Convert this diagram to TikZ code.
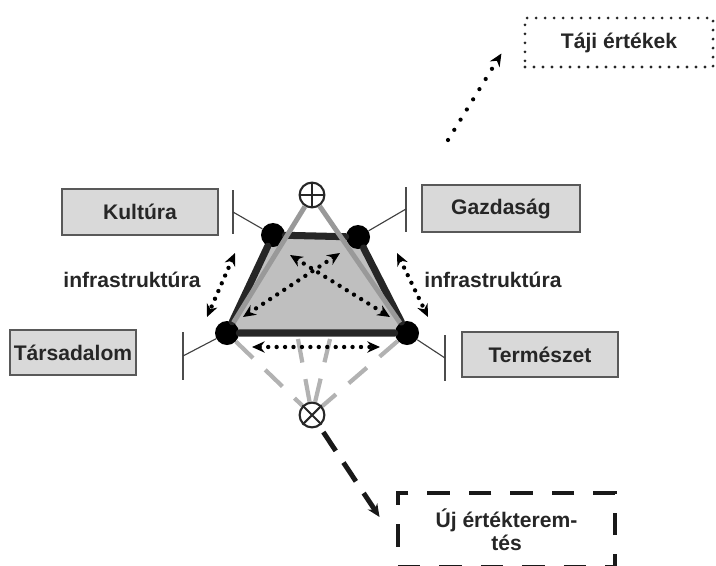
\documentclass[tikz,border=0pt]{standalone}
\usepackage{fontspec}
\setmainfont{Liberation Sans}
\usetikzlibrary{arrows.meta,backgrounds}

\begin{document}
\begin{tikzpicture}[x=0.025cm,y=-0.025cm,
  >={Stealth[length=9pt,width=8pt]},
  lbl/.style={font=\fontsize{15}{16.5}\selectfont\bfseries,text=black!85},
  fieldbox/.style={lbl,draw=black!65,line width=1.3pt,fill=black!15,inner sep=0pt},
  vertex/.style={circle,fill=black,minimum size=0.6cm,inner sep=0pt},
  sign/.style={circle,draw=black!85,line width=1.5pt,fill=white,minimum size=0.62cm,inner sep=0pt},
  edge/.style={line width=5pt,black!85,line cap=round},
  ridge/.style={line width=3.5pt,black!40},
  greydash/.style={line width=3pt,black!30,dash pattern=on 17pt off 12pt},
  infra/.style={<->,line width=3.1pt,dash pattern=on 0pt off 6pt,line cap=round},
  tick/.style={line width=1.2pt,black!70},
  pin/.style={line width=0.8pt,black!75}]
\useasboundingbox (0,0) rectangle (716,565);

% boxes
\node[fieldbox,minimum width=3.9cm,minimum height=1.15cm] (kultura) at (140,212) {Kultúra};
\node[fieldbox,minimum width=3.95cm,minimum height=1.175cm] (gazdasag) at (501,208.5) {Gazdaság};
\node[fieldbox,minimum width=3.15cm,minimum height=1.125cm] (tarsadalom) at (73,352.5) {Társadalom};
\node[fieldbox,minimum width=3.9cm,minimum height=1.125cm] (termeszet) at (540,354.5) {Természet};
\node[lbl,draw=black!85,line width=2.2pt,dash pattern=on 0pt off 6.4pt,line cap=round,
  minimum width=4.7cm,minimum height=1.225cm] (taji) at (619,42.5) {Táji értékek};
\node[lbl,draw=black!90,line width=3.5pt,dash pattern=on 16pt off 13.5pt,align=center,
  minimum width=5.425cm,minimum height=1.85cm] (uj) at (506.5,530) {Új értékterem-\\tés};

% corners of the trapezoid
\node[vertex] (kul) at (273,235) {};
\node[vertex] (gaz) at (358,237) {};
\node[vertex] (tar) at (227,333) {};
\node[vertex] (ter) at (407,333) {};

\node[sign] (plus) at (312,195) {};
\draw[line width=1.5pt,black!85] (plus.north) -- (plus.south) (plus.west) -- (plus.east);
\node[sign] (times) at (312,415) {};
\draw[line width=1.5pt,black!85] (times.north west) -- (times.south east)
  (times.north east) -- (times.south west);

\begin{pgfonlayer}{background}
\fill[black!25] (kul.center) -- (gaz.center) -- (ter.center) -- (tar.center) -- cycle;
\draw[greydash] (tar) -- (times);
\draw[greydash] (ter) -- (times);
\draw[greydash] ([shift={(71,6)}]tar.center) -- (times);
\draw[greydash] ([shift={(-77,6)}]ter.center) -- (times);
\end{pgfonlayer}

\draw[edge] (kul) -- (gaz) (gaz) -- (ter) (ter) -- (tar) (tar) -- (kul);
\draw[ridge] (plus) -- (tar);
\draw[ridge] (plus) -- (ter);

% ticks and pins to the boxes
\coordinate (kultick) at (233,212);
\coordinate (gaztick) at (406,209);
\coordinate (tartick) at (183,356);
\coordinate (tertick) at (445,358);
\draw[tick] (kultick) ++(0,-22) -- ++(0,44);
\draw[tick] (gaztick) ++(0,-22) -- ++(0,45);
\draw[tick] (tartick) ++(0,-24) -- ++(0,48);
\draw[tick] (tertick) ++(0,-23) -- ++(0,46);
\draw[pin] (kultick) -- (kul);
\draw[pin] (gaztick) -- (gaz);
\draw[pin] (tartick) -- (tar);
\draw[pin] (tertick) -- (ter);

% dotted arrows
\draw[infra] ([shift={(-38,18)}]kul.center) -- ([shift={(-20,-16)}]tar.center);
\draw[infra] ([shift={(39,16)}]gaz.center) -- ([shift={(21,-16)}]ter.center);
\draw[infra] ([shift={(25,14)}]tar.center) -- ([shift={(-27,14)}]ter.center);
\draw[infra] ([shift={(17,20)}]kul.center) -- ([shift={(-17,-16)}]ter.center);
\draw[infra] ([shift={(-18,16)}]gaz.center) -- ([shift={(16,-16)}]tar.center);

\node[lbl] (infraleft) at (132,280) {infrastruktúra};
\node[lbl] (infraright) at (493,280) {infrastruktúra};

\coordinate (tajifoot) at (448,140);
\draw[->,line width=3pt,dash pattern=on 0pt off 8.5pt,line cap=round]
  (tajifoot) -- ([shift={(-22,11)}]taji.west);
\draw[->,line width=3.5pt,black!90,dash pattern=on 16pt off 10pt,shorten <=5pt]
  (times) -- ([shift={(-16,-13)}]uj.west);
\end{tikzpicture}
\end{document}
